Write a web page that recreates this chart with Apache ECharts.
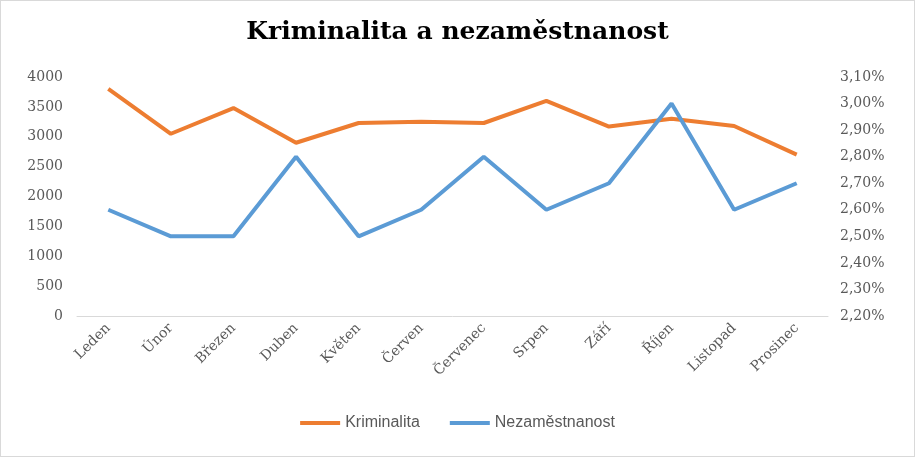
<!DOCTYPE html>
<html><head><meta charset="utf-8">
<script src="https://cdn.jsdelivr.net/npm/echarts@6/dist/echarts.min.js"></script>
<style>html,body{margin:0;padding:0;background:#fff}#c{width:913px;height:455px;border:1px solid #d9d9d9}</style>
</head><body><div id="c"></div>
<script>
const categories=["Leden","Únor","Březen","Duben","Květen","Červen","Červenec","Srpen","Září","Říjen","Listopad","Prosinec"];
const kriminalita=[3800,3050,3480,2900,3230,3250,3230,3600,3170,3300,3180,2700];
const nezamestnanost=[2.6,2.5,2.5,2.8,2.5,2.6,2.8,2.6,2.7,3.0,2.6,2.7];
const serif='"DejaVu Serif",serif';
const ch=echarts.init(document.getElementById('c'));
ch.setOption({
 animation:false,
 title:{text:'Kriminalita a nezaměstnanost',left:'center',top:14,textStyle:{fontFamily:serif,fontSize:25,fontWeight:'bold',color:'#000'}},
 legend:{bottom:20,itemWidth:40,itemHeight:4,itemGap:30,icon:'rect',textStyle:{fontFamily:'"Liberation Sans",sans-serif',fontSize:16,color:'#595959'},data:['Kriminalita','Nezaměstnanost']},
 grid:{left:76,right:86,top:76,bottom:140},
 xAxis:{type:'category',data:categories,axisTick:{show:false},axisLine:{lineStyle:{color:'#d9d9d9'}},
  axisLabel:{rotate:45,fontFamily:serif,fontSize:14,color:'#595959',margin:10}},
 yAxis:[
  {type:'value',min:0,max:4000,interval:500,axisLine:{show:false},axisTick:{show:false},splitLine:{show:false},
   axisLabel:{fontFamily:serif,fontSize:14,color:'#595959',margin:14,formatter:v=>String(v)}},
  {type:'value',min:2.2,max:3.1,interval:0.1,axisLine:{show:false},axisTick:{show:false},splitLine:{show:false},
   axisLabel:{fontFamily:serif,fontSize:14,color:'#595959',margin:12,formatter:v=>v.toFixed(2).replace('.',',')+'%'}}
 ],
 series:[
  {name:'Kriminalita',type:'line',data:kriminalita,symbol:'none',lineStyle:{width:4,color:'#ed7d31'},itemStyle:{color:'#ed7d31'}},
  {name:'Nezaměstnanost',type:'line',yAxisIndex:1,data:nezamestnanost,symbol:'none',lineStyle:{width:4,color:'#5b9bd5'},itemStyle:{color:'#5b9bd5'}}
 ]
});
</script></body></html>
